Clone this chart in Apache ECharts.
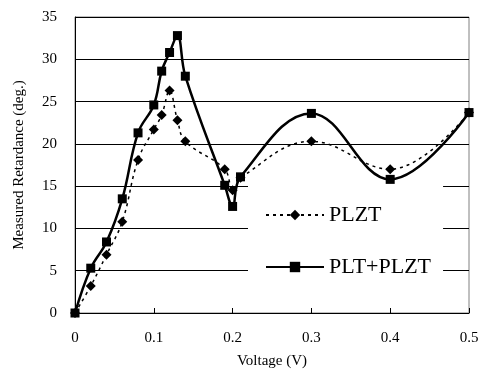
<!DOCTYPE html>
<html>
<head>
<meta charset="utf-8">
<script src="https://cdn.jsdelivr.net/npm/echarts@6/dist/echarts.min.js"></script>
<style>
  html, body { margin: 0; padding: 0; background: #fff; }
  #main { width: 482px; height: 382px; }
</style>
</head>
<body>
<div id="main"></div>
<script>
// voltage steps (V), shared by both series
const voltage = [0, 0.02, 0.04, 0.06, 0.08, 0.1, 0.11, 0.12, 0.13, 0.14, 0.19, 0.2, 0.21, 0.3, 0.4, 0.5];
// measured retardance (deg.)
const plzt = [0, 3.2, 6.9, 10.8, 18.1, 21.7, 23.4, 26.3, 22.8, 20.3, 17.0, 14.5, 16.0, 20.3, 17.0, 23.7];
const pltPlzt = [0, 5.3, 8.4, 13.5, 21.3, 24.6, 28.6, 30.8, 32.8, 28.0, 15.1, 12.6, 16.1, 23.6, 15.8, 23.7];

const toPairs = (ys) => voltage.map((v, i) => [v, ys[i]]);
const serif = "Liberation Serif";

let chart = echarts.init(document.getElementById("main"));
let option = {
  animation: false,
  backgroundColor: "#fff",
  textStyle: { fontFamily: serif, color: "#000" },
  grid: {
    left: 75,
    right: 13,
    top: 17,
    bottom: 69,
    show: true,
    borderColor: "#808080",
    borderWidth: 1,
  },
  legend: {
    orient: "vertical",
    left: 248,
    top: 186,
    backgroundColor: "#fff",
    padding: [16, 12, 20, 17],
    itemWidth: 58,
    itemHeight: 13,
    itemGap: 26,
    itemTextGap: 5,
    textStyle: { fontFamily: serif, fontSize: 22, color: "#000", lineHeight: 26 },
    data: ["PLZT", "PLT+PLZT"],
  },
  xAxis: {
    type: "value",
    min: 0,
    max: 0.5,
    interval: 0.1,
    name: "Voltage (V)",
    nameLocation: "middle",
    nameGap: 41,
    nameTextStyle: { fontFamily: serif, fontSize: 15, color: "#000" },
    axisLine: { lineStyle: { color: "#000", width: 1 } },
    axisTick: { inside: true, length: 5, lineStyle: { color: "#000" } },
    axisLabel: { fontFamily: serif, fontSize: 15, color: "#000", margin: 18 },
    splitLine: { show: false },
  },
  yAxis: {
    type: "value",
    min: 0,
    max: 35,
    interval: 5,
    name: "Measured Retardance (deg.)",
    nameLocation: "middle",
    nameGap: 48,
    nameTextStyle: { fontFamily: serif, fontSize: 15, color: "#000" },
    axisLine: { show: true, lineStyle: { color: "#000", width: 1 } },
    axisTick: { show: true, inside: true, length: 5, lineStyle: { color: "#000" } },
    axisLabel: { fontFamily: serif, fontSize: 15, color: "#000", margin: 18 },
    splitLine: { show: true, lineStyle: { color: "#000", width: 1 } },
  },
  series: [
    {
      name: "PLZT",
      type: "line",
      smooth: 0.4,
      data: toPairs(plzt),
      symbol: "diamond",
      symbolSize: 10,
      itemStyle: { color: "#000" },
      lineStyle: { color: "#000", width: 1.5, type: [3, 4] },
    },
    {
      name: "PLT+PLZT",
      type: "line",
      smooth: 0.4,
      data: toPairs(pltPlzt),
      symbol: "rect",
      symbolSize: 9,
      itemStyle: { color: "#000" },
      lineStyle: { color: "#000", width: 2.5 },
    },
  ],
};
chart.setOption(option);
</script>
</body>
</html>
